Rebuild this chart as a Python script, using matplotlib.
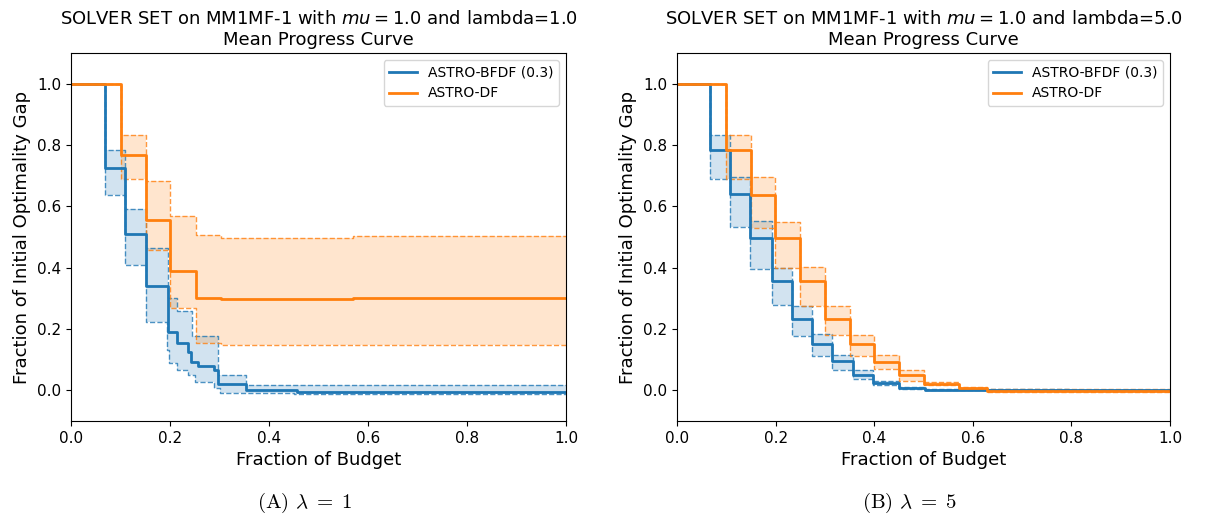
import matplotlib
matplotlib.use("Agg")
import matplotlib.pyplot as plt
import numpy as np

# ---------------- data ----------------
solvers = ["ASTRO-BFDF (0.3)", "ASTRO-DF"]
colors = ["#1f77b4", "#ff7f0e"]

# Panel A (lambda = 1)
a_bfdf_x = [0.0, 0.0687, 0.109, 0.152, 0.195, 0.215, 0.237, 0.243, 0.257, 0.289, 0.296, 0.354, 0.456, 1.0]
a_bfdf_mean = [1.0, 0.726, 0.509, 0.341, 0.19, 0.153, 0.125, 0.093, 0.078, 0.065, 0.02, 0.002, -0.004, -0.004]
a_bfdf_x_ci = [0.0, 0.0687, 0.109, 0.152, 0.195, 0.215, 0.245, 0.296, 0.354, 1.0]
a_bfdf_hi = [1.0, 0.784, 0.591, 0.465, 0.30, 0.26, 0.176, 0.049, 0.016, 0.016]
a_bfdf_x_lo = [0.0, 0.0687, 0.109, 0.152, 0.193, 0.197, 0.215, 0.237, 0.25, 0.289, 0.30, 0.45, 1.0]
a_bfdf_lo = [1.0, 0.637, 0.41, 0.223, 0.13, 0.088, 0.065, 0.049, 0.027, 0.006, -0.009, -0.012, -0.013]

a_df_x = [0.0, 0.1004, 0.152, 0.201, 0.252, 0.303, 0.57, 1.0]
a_df_mean = [1.0, 0.767, 0.556, 0.39, 0.302, 0.297, 0.300, 0.300]
a_df_hi = [1.0, 0.833, 0.681, 0.569, 0.506, 0.498, 0.503, 0.503]
a_df_lo = [1.0, 0.69, 0.457, 0.27, 0.155, 0.148, 0.148, 0.148]

# Panel B (lambda = 5)
b_bfdf_x = [0.0, 0.067, 0.1075, 0.148, 0.192, 0.233, 0.274, 0.315, 0.358, 0.397, 0.451, 0.503, 0.80, 1.0]
b_bfdf_mean = [1.0, 0.784, 0.64, 0.496, 0.357, 0.234, 0.152, 0.095, 0.051, 0.025, 0.008, 0.002, 0.0, 0.0]
b_bfdf_hi = [1.0, 0.833, 0.697, 0.553, 0.398, 0.276, 0.183, 0.114, 0.065, 0.03, 0.012, 0.004, 0.002, 0.002]
b_bfdf_lo = [1.0, 0.69, 0.534, 0.395, 0.278, 0.176, 0.111, 0.067, 0.038, 0.016, 0.004, 0.0, -0.002, -0.002]

b_df_x = [0.0, 0.0987, 0.1495, 0.199, 0.2495, 0.30, 0.35, 0.40, 0.451, 0.501, 0.571, 0.628, 1.0]
b_df_mean = [1.0, 0.784, 0.637, 0.496, 0.357, 0.234, 0.152, 0.093, 0.05, 0.022, 0.008, -0.001, -0.001]
b_df_hi = [1.0, 0.833, 0.697, 0.55, 0.403, 0.276, 0.18, 0.114, 0.065, 0.027, 0.011, 0.003, 0.003]
b_df_lo = [1.0, 0.69, 0.53, 0.398, 0.276, 0.18, 0.111, 0.069, 0.029, 0.016, 0.003, -0.005, -0.005]

titles = [
    "SOLVER SET on MM1MF-1 with $mu = 1.0$ and lambda=1.0\nMean Progress Curve",
    "SOLVER SET on MM1MF-1 with $mu = 1.0$ and lambda=5.0\nMean Progress Curve",
]
captions = ["(A) $\\lambda\\;=\\;1$", "(B) $\\lambda\\;=\\;5$"]
xticks = [0.0, 0.2, 0.4, 0.6, 0.8, 1.0]
yticks = [0.0, 0.2, 0.4, 0.6, 0.8, 1.0]

plt.rcParams["mathtext.fontset"] = "dejavusans"

fig = plt.figure(figsize=(12.05, 5.17), dpi=100)
W, H = 1205, 517
ax_a = fig.add_axes([71 / W, 1 - 421 / H, 495 / W, 368 / H])
ax_b = fig.add_axes([677 / W, 1 - 421 / H, 493 / W, 368 / H])


def stepval(xs, ys, g):
    idx = np.searchsorted(np.asarray(xs), g, side="right") - 1
    return np.asarray(ys)[idx]


def draw_ci(ax, x_hi, hi, x_lo, lo, color):
    grid = np.array(sorted(set(x_hi) | set(x_lo)))
    ax.fill_between(grid, stepval(x_lo, lo, grid), stepval(x_hi, hi, grid),
                    step="post", color=color, alpha=0.2, lw=0)
    ax.step(x_hi, hi, where="post", color=color, lw=1, ls="--", alpha=0.8)
    ax.step(x_lo, lo, where="post", color=color, lw=1, ls="--", alpha=0.8)


c0, c1 = colors
# Panel A
draw_ci(ax_a, a_bfdf_x_ci, a_bfdf_hi, a_bfdf_x_lo, a_bfdf_lo, c0)
draw_ci(ax_a, a_df_x, a_df_hi, a_df_x, a_df_lo, c1)
ax_a.step(a_bfdf_x, a_bfdf_mean, where="post", color=c0, lw=2, label=solvers[0])
ax_a.step(a_df_x, a_df_mean, where="post", color=c1, lw=2, label=solvers[1])

# Panel B
draw_ci(ax_b, b_bfdf_x, b_bfdf_hi, b_bfdf_x, b_bfdf_lo, c0)
draw_ci(ax_b, b_df_x, b_df_hi, b_df_x, b_df_lo, c1)
ax_b.step(b_bfdf_x, b_bfdf_mean, where="post", color=c0, lw=2, label=solvers[0])
ax_b.step(b_df_x, b_df_mean, where="post", color=c1, lw=2, label=solvers[1])

for ax, title in zip([ax_a, ax_b], titles):
    ax.set_xlim(0, 1)
    ax.set_ylim(-0.1, 1.1)
    ax.set_xticks(xticks)
    ax.set_yticks(yticks)
    ax.tick_params(labelsize=11)
    ax.set_xlabel("Fraction of Budget", fontsize=13)
    ax.set_ylabel("Fraction of Initial Optimality Gap", fontsize=13)
    ax.set_title(title, fontsize=13, pad=6)
    ax.legend(loc="upper right", fontsize=10)

fig.text(305 / W, 1 - 503 / H, captions[0], fontsize=15, family="cmr10",
         ha="center", va="center", math_fontfamily="cm")
fig.text(910 / W, 1 - 503 / H, captions[1], fontsize=15, family="cmr10",
         ha="center", va="center", math_fontfamily="cm")

fig.savefig("out.png", dpi=100)
